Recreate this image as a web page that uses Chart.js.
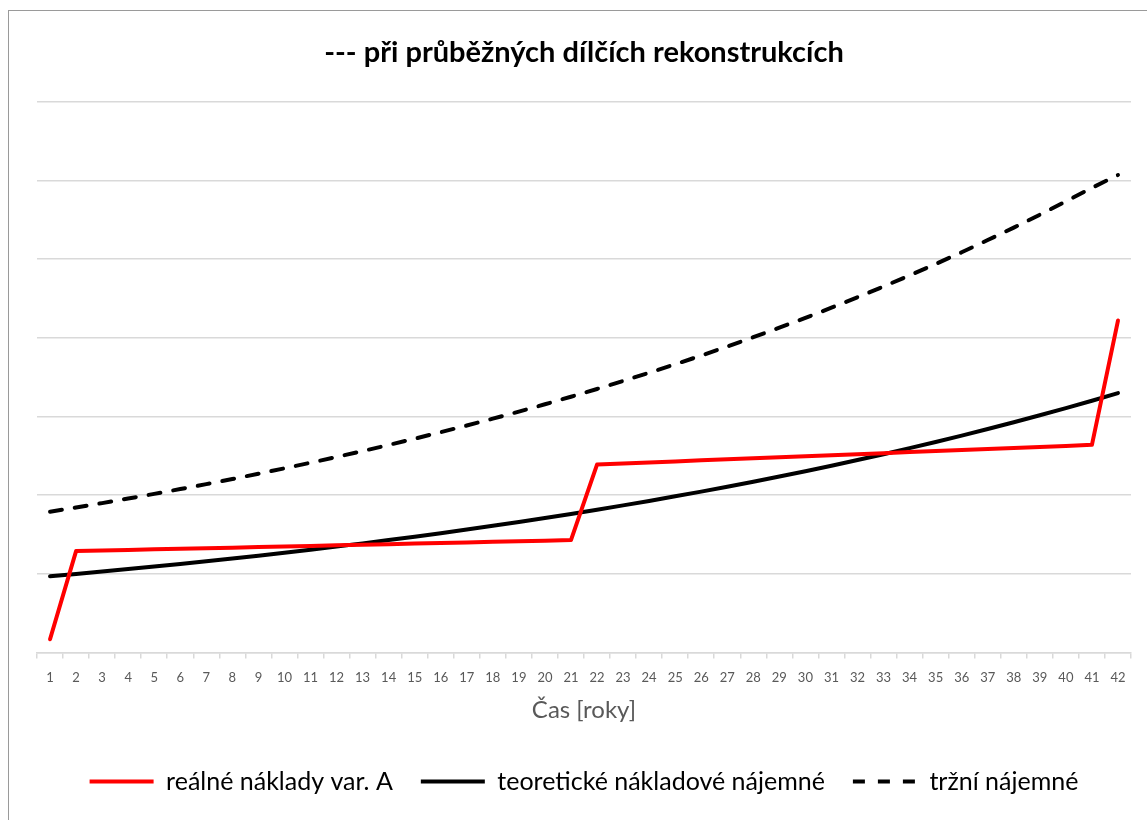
<!DOCTYPE html>
<html>
<head>
<meta charset="utf-8">
<script src="https://cdn.jsdelivr.net/npm/chart.js@4.4.1/dist/chart.umd.min.js"></script>
<style>
  html, body { margin: 0; padding: 0; background: #fff; overflow: hidden; }
  #wrap { position: relative; width: 1147px; height: 820px; }
  #frame { position: absolute; left: 8px; top: 10px; width: 1200px; height: 900px; border: 1.5px solid #9a9a9a; box-sizing: border-box; pointer-events: none; }
  canvas { position: absolute; left: 0; top: 0; }
</style>
</head>
<body>
<div id="wrap">
  <canvas id="c" width="1147" height="820"></canvas>
  <div id="frame"></div>
</div>
<script>
const years = ["1","2","3","4","5","6","7","8","9","10","11","12","13","14","15","16","17","18","19","20","21","22","23","24","25","26","27","28","29","30","31","32","33","34","35","36","37","38","39","40","41","42"];

const realneNaklady = [0.17,1.290,1.297,1.305,1.312,1.319,1.327,1.334,1.342,1.349,1.356,1.364,1.371,1.378,1.386,1.393,1.400,1.408,1.415,1.423,1.430,
  2.390,2.403,2.416,2.429,2.443,2.456,2.469,2.482,2.495,2.508,2.522,2.535,2.548,2.561,2.574,2.587,2.601,2.614,2.627,2.640,4.22];

const teoretickeNajemne = [0.970,0.999,1.030,1.061,1.093,1.126,1.160,1.195,1.232,1.269,1.307,1.347,1.388,1.430,1.473,1.518,1.564,1.611,1.660,1.710,1.762,
  1.816,1.871,1.927,1.986,2.046,2.108,2.172,2.238,2.305,2.375,2.447,2.521,2.598,2.676,2.758,2.841,2.927,3.016,3.107,3.201,3.298];

const trzniNajemne = [1.790,1.844,1.900,1.958,2.017,2.078,2.141,2.206,2.273,2.342,2.413,2.486,2.561,2.639,2.719,2.801,2.886,2.973,3.063,3.156,3.252,
  3.350,3.452,3.557,3.664,3.775,3.890,4.008,4.129,4.254,4.383,4.516,4.653,4.794,4.939,5.088,5.243,5.401,5.565,5.734,5.907,6.070];

const seriesNames = ["reálné náklady var. A", "teoretické nákladové nájemné", "tržní nájemné"];
const yMin = 0, yMax = 7;

const bgPlugin = {
  id: 'bg',
  beforeDraw(chart) {
    const ctx = chart.ctx;
    ctx.save();
    ctx.fillStyle = '#ffffff';
    ctx.fillRect(0, 0, chart.width, chart.height);
    ctx.restore();
  }
};

new Chart(document.getElementById('c'), {
  type: 'line',
  data: {
    labels: years,
    datasets: [
      { label: seriesNames[0], data: realneNaklady, borderColor: '#ff0000', backgroundColor: '#ff0000',
        borderWidth: 4, pointRadius: 0, tension: 0, borderCapStyle: 'round', borderJoinStyle: 'round', order: 1 },
      { label: seriesNames[1], data: teoretickeNajemne, borderColor: '#000000', backgroundColor: '#000000',
        borderWidth: 4, pointRadius: 0, tension: 0, borderCapStyle: 'round', borderJoinStyle: 'round', order: 2 },
      { label: seriesNames[2], data: trzniNajemne, borderColor: '#000000', backgroundColor: '#000000',
        borderWidth: 4, pointRadius: 0, tension: 0, borderDash: [12, 13], borderCapStyle: 'round', order: 3 }
    ]
  },
  options: {
    responsive: false,
    animation: false,
    devicePixelRatio: 1,
    layout: { padding: { left: 37, right: 16, top: 0, bottom: 16 } },
    plugins: {
      title: {
        display: true,
        text: '--- při průběžných dílčích rekonstrukcích',
        font: { family: 'Lato', size: 29, weight: 'bold' },
        color: '#000000',
        padding: { top: 35, bottom: 32 }
      },
      legend: {
        position: 'bottom',
        labels: {
          font: { family: 'Lato', size: 25 },
          color: '#000000',
          usePointStyle: true,
          pointStyle: 'line',
          pointStyleWidth: 64,
          boxHeight: 25,
          padding: 28,
          generateLabels(chart) {
            return chart.data.datasets.map((ds, i) => ({
              text: ds.label,
              fillStyle: ds.borderColor,
              strokeStyle: ds.borderColor,
              lineWidth: 4,
              lineDash: ds.borderDash || [],
              pointStyle: 'line',
              hidden: false,
              datasetIndex: i,
              fontColor: '#000000'
            }));
          }
        }
      },
      tooltip: { enabled: false }
    },
    scales: {
      x: {
        offset: true,
        grid: { display: true, drawOnChartArea: false, drawTicks: true, tickLength: 6, color: '#d9d9d9', lineWidth: 1.5, offset: true },
        border: { display: true, color: '#d9d9d9', width: 1.5 },
        ticks: { font: { family: 'Lato', size: 13 }, color: '#595959', maxRotation: 0, autoSkip: false, padding: 11 },
        title: { display: true, text: 'Čas [roky]', font: { family: 'Lato', size: 24 }, color: '#595959', padding: { top: 0, bottom: 16 } }
      },
      y: {
        min: yMin, max: yMax,
        ticks: { display: false, stepSize: 1 },
        grid: { color: '#d9d9d9', lineWidth: 1.5, drawTicks: false },
        border: { display: false }
      }
    }
  },
  plugins: [bgPlugin]
});
</script>
</body>
</html>
